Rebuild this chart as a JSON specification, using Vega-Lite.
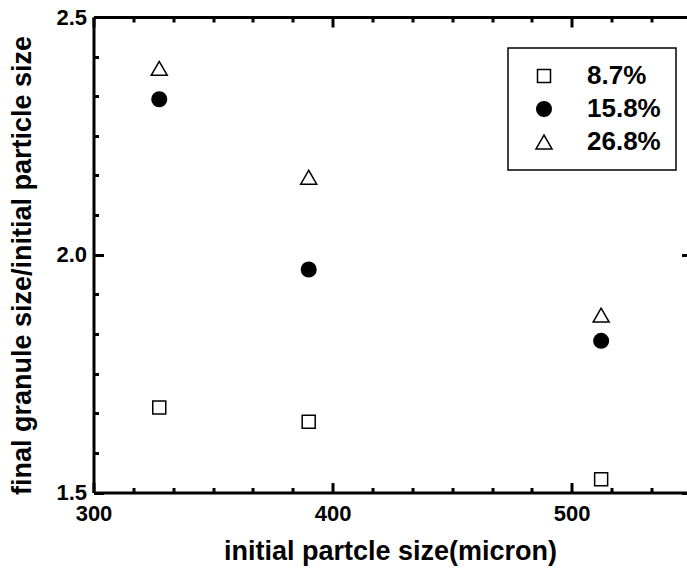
{
  "$schema": "https://vega.github.io/schema/vega-lite/v6.json",
  "autosize": "none",
  "width": 593,
  "height": 475.5,
  "padding": {"left": 93.5, "top": 17, "right": 0, "bottom": 80.5},
  "background": "white",
  "data": {
    "values": [
      {"size": 327.5, "ratio": 1.679, "moisture": "8.7%"},
      {"size": 390.0, "ratio": 1.649, "moisture": "8.7%"},
      {"size": 512.3, "ratio": 1.528, "moisture": "8.7%"},
      {"size": 327.5, "ratio": 2.327, "moisture": "15.8%"},
      {"size": 390.0, "ratio": 1.969, "moisture": "15.8%"},
      {"size": 512.3, "ratio": 1.819, "moisture": "15.8%"},
      {"size": 327.5, "ratio": 2.392, "moisture": "26.8%"},
      {"size": 390.0, "ratio": 2.163, "moisture": "26.8%"},
      {"size": 512.3, "ratio": 1.873, "moisture": "26.8%"}
    ]
  },
  "layer": [
    {
      "mark": {"type": "point", "opacity": 0},
      "encoding": {
        "x": {
          "field": "size", "type": "quantitative",
          "scale": {"domain": [300, 548], "nice": false, "zero": false},
          "axis": {
            "orient": "top", "title": null, "labels": false,
            "values": [300, 316.667, 333.333, 350, 366.667, 383.333, 400, 416.667, 433.333, 450, 466.667, 483.333, 500, 516.667, 533.333],
            "tickSize": {"condition": {"test": "datum.value % 100 === 0", "value": -10}, "value": -5}
          }
        },
        "y": {
          "field": "ratio", "type": "quantitative",
          "scale": {"domain": [1.5, 2.5], "nice": false, "zero": false},
          "axis": {
            "orient": "right", "title": null, "labels": false, "domain": false, "offset": 5,
            "values": [1.5, 1.58333, 1.66667, 1.75, 1.83333, 1.91667, 2, 2.08333, 2.16667, 2.25, 2.33333, 2.41667, 2.5],
            "tickSize": {"condition": {"test": "(datum.value * 2) % 1 === 0", "value": -10}, "value": -5}
          }
        }
      }
    },
    {
      "mark": {"type": "point", "strokeWidth": 1.5, "opacity": 1},
      "encoding": {
        "x": {
          "field": "size", "type": "quantitative",
          "axis": {
            "orient": "bottom",
            "title": "initial partcle size(micron)",
            "titleFontSize": 27,
            "titlePadding": 9,
            "labelFontSize": 22,
            "labelPadding": 21,
            "values": [300, 316.667, 333.333, 350, 366.667, 383.333, 400, 416.667, 433.333, 450, 466.667, 483.333, 500, 516.667, 533.333],
            "labelExpr": "datum.value % 100 === 0 ? datum.label : ''",
            "format": "d",
            "tickSize": {"condition": {"test": "datum.value % 100 === 0", "value": -10}, "value": -5}
          }
        },
        "y": {
          "field": "ratio", "type": "quantitative",
          "axis": {
            "orient": "left",
            "title": "final granule size/initial particle size",
            "titleFontSize": 27,
            "titlePadding": 19,
            "titleY": 248,
            "labelFontSize": 22,
            "labelPadding": 17,
            "format": ".1f",
            "values": [1.5, 1.58333, 1.66667, 1.75, 1.83333, 1.91667, 2, 2.08333, 2.16667, 2.25, 2.33333, 2.41667, 2.5],
            "labelExpr": "(datum.value * 2) % 1 === 0 ? datum.label : ''",
            "tickSize": {"condition": {"test": "(datum.value * 2) % 1 === 0", "value": -10}, "value": -5}
          }
        },
        "shape": {
          "field": "moisture", "type": "nominal",
          "scale": {"domain": ["8.7%", "15.8%", "26.8%"], "range": ["square", "circle", "triangle-up"]},
          "legend": {"title": null}
        },
        "fill": {
          "field": "moisture", "type": "nominal",
          "scale": {"domain": ["8.7%", "15.8%", "26.8%"], "range": ["white", "black", "white"]},
          "legend": {"title": null}
        },
        "stroke": {
          "field": "moisture", "type": "nominal",
          "scale": {"domain": ["8.7%", "15.8%", "26.8%"], "range": ["black", "black", "black"]},
          "legend": {"title": null}
        },
        "size": {
          "field": "moisture", "type": "nominal",
          "scale": {"domain": ["8.7%", "15.8%", "26.8%"], "range": [169, 256, 330]},
          "legend": {"title": null}
        }
      }
    }
  ],
  "resolve": {"axis": {"x": "independent", "y": "independent"}},
  "config": {
    "view": {"stroke": null},
    "font": "Liberation Sans",
    "axis": {
      "domainColor": "black",
      "domainWidth": 3,
      "tickColor": "black",
      "tickWidth": 3,
      "labelFont": "Liberation Sans",
      "labelFontWeight": "bold",
      "labelColor": "black",
      "titleFont": "Liberation Sans",
      "titleFontWeight": "bold",
      "titleColor": "black",
      "grid": false,
      "labelOverlap": false,
      "labelFlush": false
    },
    "legend": {
      "orient": "none",
      "legendX": 414.5,
      "legendY": 31,
      "strokeColor": "black",
      "strokeWidth": 1.5,
      "fillColor": "white",
      "padding": 15,
      "symbolOffset": 8,
      "labelOffset": 30,
      "labelFont": "Liberation Sans",
      "labelFontWeight": "bold",
      "labelFontSize": 26,
      "labelColor": "black",
      "rowPadding": 7,
      "symbolStrokeWidth": 1.5,
      "symbolOpacity": 1,
      "labelLimit": 300
    }
  }
}
